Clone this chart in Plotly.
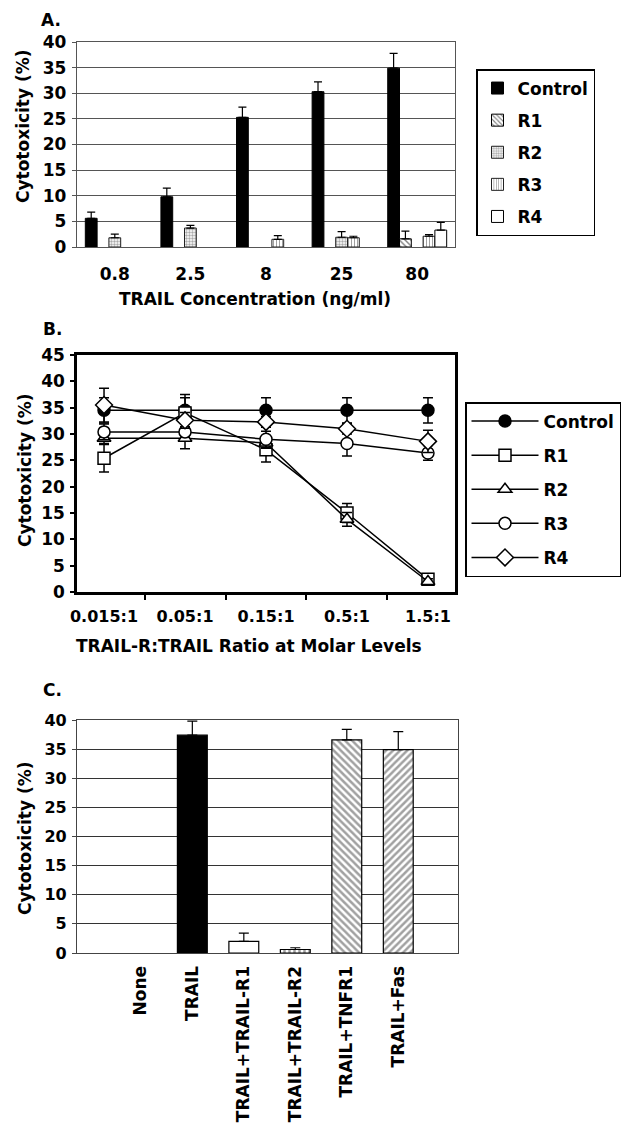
import plotly.graph_objects as go

# ---------------- Panel A data ----------------
conc = ["0.8", "2.5", "8", "25", "80"]
a_control = [5.6, 9.8, 25.3, 30.3, 34.9]
a_control_err = [1.2, 1.7, 2.0, 1.9, 2.9]
a_r1 = [None, None, None, None, 1.6]
a_r1_err = [0, 0, 0, 0, 1.5]
a_r2 = [1.8, 3.7, None, 1.9, None]
a_r2_err = [0.7, 0.5, 0, 1.1, 0]
a_r3 = [None, None, 1.5, 1.8, 2.1]
a_r3_err = [0, 0, 0.7, 0.3, 0.3]
a_r4 = [None, None, None, None, 3.3]
a_r4_err = [0, 0, 0, 0, 1.5]

# ---------------- Panel B data ----------------
ratios = ["0.015:1", "0.05:1", "0.15:1", "0.5:1", "1.5:1"]
b_control = [34.5, 34.5, 34.5, 34.5, 34.5]
b_control_err = [2.4, 2.4, 2.4, 2.4, 2.4]
b_r1 = [25.4, 34.0, 27.0, 15.0, 2.4]
b_r1_err = [2.6, 3.5, 2.3, 1.8, 0.6]
b_r2 = [29.2, 29.2, 28.3, 13.8, 2.0]
b_r2_err = [1.0, 2.0, 1.0, 1.3, 0.5]
b_r3 = [30.4, 30.4, 29.0, 28.2, 26.4]
b_r3_err = [1.5, 1.0, 1.5, 2.4, 1.4]
b_r4 = [35.5, 32.6, 32.3, 31.0, 28.6]
b_r4_err = [3.2, 1.5, 1.0, 1.0, 2.1]

# ---------------- Panel C data ----------------
treatments = ["None", "TRAIL", "TRAIL+TRAIL-R1", "TRAIL+TRAIL-R2", "TRAIL+TNFR1", "TRAIL+Fas"]
c_values = [None, 37.4, 2.0, 0.6, 36.6, 34.9]
c_err = [0, 2.4, 1.4, 0.3, 1.8, 3.1]
c_colors = ["white", "black", "white", "white", "white", "white"]
c_patterns = ["", "", "", "|", "\\", "/"]

W, H = 634, 1132
FONT = "DejaVu Sans, Liberation Sans, Arial, sans-serif"


def fx(px):
    return px / W


def fy(py):
    return 1 - py / H


fig = go.Figure()

# ---------- Panel A traces ----------
a_series = [
    ("Control", a_control, a_control_err, dict(color="black", line=dict(color="black", width=1))),
    ("R1", a_r1, a_r1_err, dict(color="white", line=dict(color="black", width=1),
                                 pattern=dict(shape="\\", fgcolor="black", size=4, solidity=0.35))),
    ("R2", a_r2, a_r2_err, dict(color="white", line=dict(color="#222", width=1),
                                 pattern=dict(shape=".", fgcolor="#555", size=3, solidity=0.5))),
    ("R3", a_r3, a_r3_err, dict(color="white", line=dict(color="#222", width=1),
                                 pattern=dict(shape="|", fgcolor="#444", size=3, solidity=0.35))),
    ("R4", a_r4, a_r4_err, dict(color="white", line=dict(color="black", width=1))),
]
for i, (name, vals, errs, marker) in enumerate(a_series):
    fig.add_trace(go.Bar(
        x=conc, y=vals, name=name, marker=marker,
        error_y=dict(type="data", array=errs, arrayminus=[0] * len(errs), symmetric=False,
                     color="black", thickness=1.2, width=4),
        xaxis="x", yaxis="y", legend="legend", legendgroup="a" + str(i),
    ))

# ---------- Panel B traces ----------
b_series = [
    ("Control", b_control, b_control_err, "circle", "black", 12),
    ("R1", b_r1, b_r1_err, "square", "white", 12),
    ("R2", b_r2, b_r2_err, "triangle-up", "white", 12),
    ("R3", b_r3, b_r3_err, "circle", "white", 12),
    ("R4", b_r4, b_r4_err, "diamond", "white", 13),
]
for i, (name, vals, errs, sym, col, sz) in enumerate(b_series):
    fig.add_trace(go.Scatter(
        x=ratios, y=vals, name=name, mode="lines+markers",
        line=dict(color="black", width=1.5),
        marker=dict(symbol=sym, color=col, size=sz, line=dict(color="black", width=1.5)),
        error_y=dict(type="data", array=errs, color="black", thickness=1.5, width=5),
        xaxis="x2", yaxis="y2", legend="legend2", legendgroup="b" + str(i),
    ))

# ---------- Panel C trace ----------
fig.add_trace(go.Bar(
    x=treatments, y=c_values, width=0.58, showlegend=False,
    marker=dict(color=c_colors, line=dict(color="black", width=1.2),
                pattern=dict(shape=c_patterns, fgcolor="black", size=5, solidity=0.5)),
    error_y=dict(type="data", array=c_err, arrayminus=[0] * len(c_err), symmetric=False,
                 color="black", thickness=1.2, width=5),
    xaxis="x3", yaxis="y3",
))

tick17 = dict(family=FONT, size=17, color="black", weight="bold")
tick16 = dict(family=FONT, size=16, color="black", weight="bold")

fig.update_layout(
    width=W, height=H,
    margin=dict(l=0, r=0, t=0, b=0, autoexpand=False),
    paper_bgcolor="white", plot_bgcolor="white",
    font=dict(family=FONT, size=17, color="black", weight="bold"),
    barmode="group", bargap=0.22, bargroupgap=0,
    showlegend=True,
    xaxis=dict(domain=[fx(77), fx(455)], anchor="y", type="category",
               showline=True, mirror=True, linecolor="#555", linewidth=1.3,
               ticks="", showgrid=False, tickfont=tick17, ticklabelstandoff=11),
    yaxis=dict(domain=[fy(247), fy(42)], anchor="x", range=[0, 40], dtick=5,
               showgrid=True, gridcolor="#555", gridwidth=1.2, zeroline=False,
               showline=True, mirror=True, linecolor="#555", linewidth=1.3,
               ticks="outside", ticklen=4, tickcolor="#555", tickfont=tick17, ticklabelstandoff=2),
    xaxis2=dict(domain=[fx(77), fx(455)], anchor="y2", type="category", tickangle=0,
                showline=True, mirror=True, linecolor="black", linewidth=2.5,
                tickson="boundaries", ticks="outside", ticklen=5, tickwidth=2, tickcolor="black",
                showgrid=False, tickfont=tick16, ticklabelstandoff=8),
    yaxis2=dict(domain=[fy(592), fy(355)], anchor="x2", range=[0, 45], dtick=5,
                showgrid=False, zeroline=False,
                showline=True, mirror=True, linecolor="black", linewidth=2.5,
                ticks="outside", ticklen=4, tickwidth=2, tickcolor="black",
                tickfont=tick17, ticklabelstandoff=2),
    xaxis3=dict(domain=[fx(77), fx(458)], anchor="y3", type="category", range=[-1.24, 6.16],
                showline=True, mirror=True, linecolor="#444", linewidth=1.3,
                ticks="", showgrid=False, tickangle=-90, tickfont=tick17, ticklabelstandoff=5),
    yaxis3=dict(domain=[fy(953), fy(720)], anchor="x3", range=[0, 40], dtick=5,
                showgrid=True, gridcolor="#333", gridwidth=1.2, zeroline=False,
                showline=True, mirror=True, linecolor="#444", linewidth=1.3,
                ticks="outside", ticklen=4, tickcolor="#444", tickfont=tick16, ticklabelstandoff=2),
    legend=dict(x=fx(476), y=fy(69), xanchor="left", yanchor="top",
                bordercolor="black", borderwidth=1.5, bgcolor="white",
                font=dict(family=FONT, size=17, color="black", weight="bold"),
                tracegroupgap=7, itemclick=False),
    legend2=dict(x=fx(465), y=fy(402), xanchor="left", yanchor="top",
                 bordercolor="black", borderwidth=1.5, bgcolor="white",
                 font=dict(family=FONT, size=17, color="black", weight="bold"),
                 tracegroupgap=9, itemwidth=67, itemclick=False),
)

ann_font = dict(family=FONT, size=17, color="black", weight="bold")
annotations = [
    ("A.", 51, 20, 0),
    ("B.", 52, 329, 0),
    ("C.", 52, 690, 0),
    ("Cytotoxicity (%)", 23, 126, -90),
    ("TRAIL Concentration (ng/ml)", 255, 299, 0),
    ("Cytotoxicity (%)", 25, 470, -90),
    ("TRAIL-R:TRAIL Ratio at Molar Levels", 249, 646, 0),
    ("Cytotoxicity (%)", 25, 838, -90),
]
for text, px, py, ang in annotations:
    fig.add_annotation(text=text, x=fx(px), y=fy(py), xref="paper", yref="paper",
                       xanchor="center", yanchor="middle", showarrow=False,
                       textangle=ang, font=ann_font)

fig.write_html("out.html", config={"displayModeBar": False})
